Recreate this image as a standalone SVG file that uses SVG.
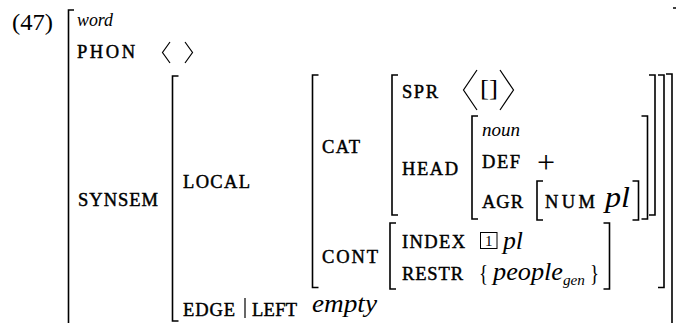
<svg xmlns="http://www.w3.org/2000/svg" width="676" height="323" viewBox="0 0 676 323">
<style>
.b{fill:none;stroke:#000;stroke-width:1.6}
.a{fill:none;stroke:#000;stroke-width:1.2}
.f{font-family:"Liberation Serif",serif;font-size:18.5px;fill:#000;stroke:#000;stroke-width:0.45}
.i{font-family:"Liberation Serif",serif;font-style:italic;fill:#000}
.r{font-family:"Liberation Serif",serif;fill:#000}
</style>
<rect width="676" height="323" fill="#fff"/>
<text class="r" x="12" y="30" font-size="23" textLength="41" lengthAdjust="spacingAndGlyphs">(47)</text>

<g id="word">
<path class="b" d="M74,10 H68.5 V325 H74"/>
<path class="b" d="M673,8 H677.5 V325"/>
<text class="i" x="77" y="26" font-size="19" textLength="36" lengthAdjust="spacingAndGlyphs">word</text>
<text class="f" x="77" y="58" textLength="58">PHON</text>
<path class="a" d="M170,42 L162.5,52.5 L170,63 M185,42 L192.5,52.5 L185,63"/>
<text class="f" x="78" y="206" textLength="80">SYNSEM</text>
</g>

<g id="synsem">
<path class="b" d="M178.5,76 H172.5 V321 H178.5"/>
<path class="b" d="M666,74 H672 V325"/>
<text class="f" x="183" y="188" textLength="67">LOCAL</text>
<text class="f" x="183" y="316" textLength="52">EDGE</text>
<path class="a" d="M245,298 V318"/>
<text class="f" x="252" y="316" textLength="45">LEFT</text>
<text class="i" x="312" y="312" font-size="25" textLength="65" lengthAdjust="spacingAndGlyphs">empty</text>
</g>

<g id="local">
<path class="b" d="M318.5,75 H312.5 V287.5 H318.5"/>
<path class="b" d="M658,75 H664 V287.5 H658"/>
<text class="f" x="322" y="153" textLength="38">CAT</text>
<text class="f" x="322" y="263" textLength="56">CONT</text>
</g>

<g id="cat">
<path class="b" d="M398,75 H392 V215 H398"/>
<path class="b" d="M649,75 H655 V215 H649"/>
<text class="f" x="402" y="98" textLength="36">SPR</text>
<path class="a" d="M477,70 L463.5,90 L477,110 M500,70 L513.5,90 L500,110"/>
<text class="r" x="480" y="96" font-size="24" textLength="18" lengthAdjust="spacingAndGlyphs">[]</text>
<text class="f" x="402" y="175" textLength="56">HEAD</text>
</g>

<g id="head">
<path class="b" d="M478,116 H472 V219 H478"/>
<path class="b" d="M641.5,116 H647.5 V219 H641.5"/>
<text class="i" x="482" y="136" font-size="19" textLength="38" lengthAdjust="spacingAndGlyphs">noun</text>
<text class="f" x="482" y="168" textLength="38">DEF</text>
<text class="r" x="537" y="173" font-size="32">+</text>
<text class="f" x="482" y="208" textLength="41">AGR</text>
</g>

<g id="agr">
<path class="b" d="M543,181 H537 V220 H543"/>
<path class="b" d="M632.5,181 H638.5 V220 H632.5"/>
<text class="f" x="545" y="208" textLength="50">NUM</text>
<text class="i" x="605" y="207" font-size="30" textLength="25" lengthAdjust="spacingAndGlyphs">pl</text>
</g>

<g id="cont">
<path class="b" d="M396,223 H390 V289 H396"/>
<path class="b" d="M603.5,223 H609.5 V289 H603.5"/>
<text class="f" x="402" y="248" textLength="63">INDEX</text>
<rect x="480.5" y="232.5" width="16.5" height="16" fill="none" stroke="#000" stroke-width="1"/>
<text class="r" x="488.75" y="246" font-size="15" text-anchor="middle">1</text>
<text class="i" x="503" y="249" font-size="25" textLength="20" lengthAdjust="spacingAndGlyphs">pl</text>
<text class="f" x="402" y="280" textLength="61">RESTR</text>
<text class="r" x="479" y="281" font-size="24" textLength="9" lengthAdjust="spacingAndGlyphs">{</text>
<text class="i" x="493" y="280" font-size="25" textLength="70" lengthAdjust="spacingAndGlyphs">people</text>
<text class="i" x="563" y="285" font-size="15" textLength="22" lengthAdjust="spacingAndGlyphs">gen</text>
<text class="r" x="590" y="281" font-size="24" textLength="9" lengthAdjust="spacingAndGlyphs">}</text>
</g>
</svg>
